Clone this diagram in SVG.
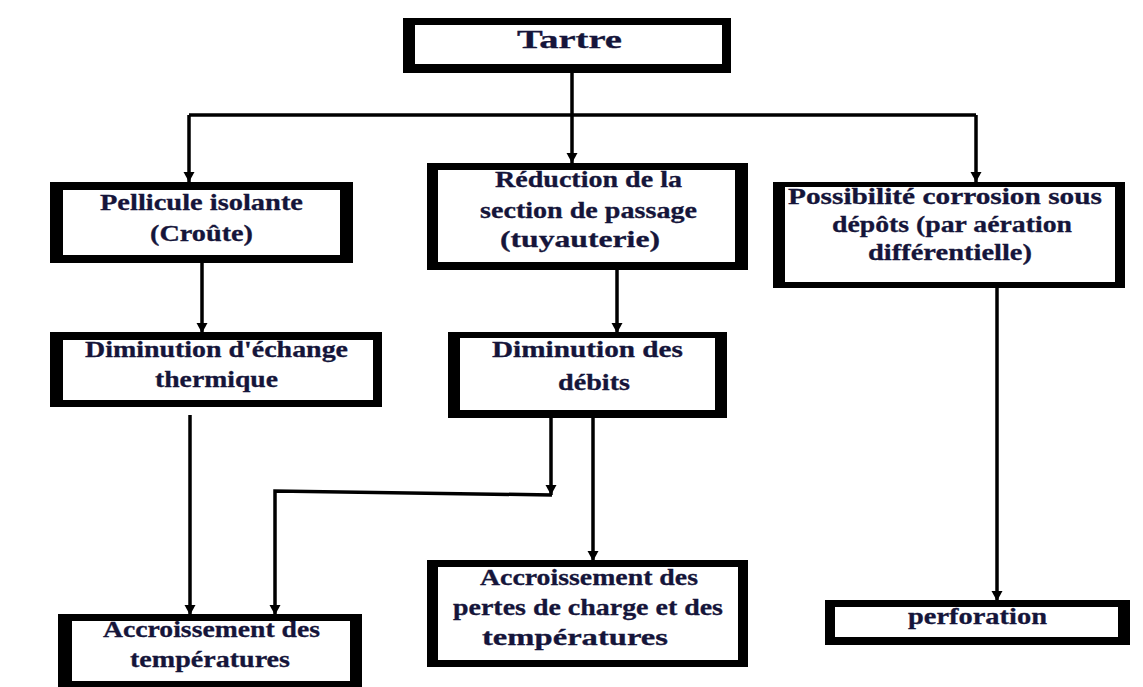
<svg xmlns="http://www.w3.org/2000/svg" width="1143" height="687" viewBox="0 0 1143 687">
<style>
.outer{fill:#000}
.inner{fill:#fff}
.t{font-family:"Liberation Serif","Times New Roman",serif;font-weight:bold;font-size:23px;fill:#15153a;stroke:#15153a;stroke-width:0.3}
.c{fill:none;stroke:#000;stroke-width:3.5}
</style>
<defs>
<marker id="ah" markerUnits="userSpaceOnUse" markerWidth="12" markerHeight="12" refX="10" refY="6" orient="auto">
<path d="M0,0.5 L10,6 L0,11.5 Z" fill="#000"/>
</marker>
</defs>
<rect width="1143" height="687" fill="#fff"/>
<g id="connectors">
<path class="c" d="M572,73 V163" marker-end="url(#ah)"/>
<path class="c" d="M189,115 H976"/>
<path class="c" d="M189,115 V182" marker-end="url(#ah)"/>
<path class="c" d="M976,115 V182" marker-end="url(#ah)"/>
<path class="c" d="M202,263 V333" marker-end="url(#ah)"/>
<path class="c" d="M617,270 V333" marker-end="url(#ah)"/>
<path class="c" d="M997,288 V601" marker-end="url(#ah)"/>
<path class="c" d="M190,415 V615" marker-end="url(#ah)"/>
<path class="c" d="M551,418 V495" marker-end="url(#ah)"/>
<path class="c" d="M552,495 L275,491 V615" marker-end="url(#ah)"/>
<path class="c" d="M593,418 V561" marker-end="url(#ah)"/>
</g>
<g id="tartre">
<rect class="outer" x="403" y="18" width="328" height="55"/>
<rect class="inner" x="415" y="25" width="307" height="39"/>
<text class="t" x="517" y="48" style="font-size:25px" textLength="105" lengthAdjust="spacingAndGlyphs">Tartre</text>
</g>
<g id="pellicule">
<rect class="outer" x="50" y="182" width="303" height="81"/>
<rect class="inner" x="63" y="190" width="277" height="65"/>
<text class="t" x="100" y="210" textLength="203" lengthAdjust="spacingAndGlyphs">Pellicule isolante</text>
<text class="t" x="150" y="241" textLength="103" lengthAdjust="spacingAndGlyphs">(Croûte)</text>
</g>
<g id="reduction">
<rect class="outer" x="427" y="163" width="321" height="107"/>
<rect class="inner" x="438" y="170" width="297" height="92"/>
<text class="t" x="495" y="187" textLength="187" lengthAdjust="spacingAndGlyphs">Réduction de la</text>
<text class="t" x="480" y="218" textLength="217" lengthAdjust="spacingAndGlyphs">section de passage</text>
<text class="t" x="500" y="247" textLength="160" lengthAdjust="spacingAndGlyphs">(tuyauterie)</text>
</g>
<g id="possibilite">
<rect class="outer" x="773" y="182" width="352" height="106"/>
<rect class="inner" x="785" y="187" width="330" height="95"/>
<text class="t" x="788" y="204" textLength="314" lengthAdjust="spacingAndGlyphs">Possibilité corrosion sous</text>
<text class="t" x="832" y="232" textLength="240" lengthAdjust="spacingAndGlyphs">dépôts (par aération</text>
<text class="t" x="868" y="260" textLength="164" lengthAdjust="spacingAndGlyphs">différentielle)</text>
</g>
<g id="diminution-echange">
<rect class="outer" x="50" y="332" width="332" height="75"/>
<rect class="inner" x="63" y="340" width="310" height="60"/>
<text class="t" x="85" y="357" textLength="263" lengthAdjust="spacingAndGlyphs">Diminution d'échange</text>
<text class="t" x="155" y="387" textLength="123" lengthAdjust="spacingAndGlyphs">thermique</text>
</g>
<g id="diminution-debits">
<rect class="outer" x="448" y="332" width="279" height="86"/>
<rect class="inner" x="460" y="338" width="255" height="72"/>
<text class="t" x="492" y="357" textLength="191" lengthAdjust="spacingAndGlyphs">Diminution des</text>
<text class="t" x="558" y="390" textLength="72" lengthAdjust="spacingAndGlyphs">débits</text>
</g>
<g id="accroissement-temp">
<rect class="outer" x="58" y="614" width="304" height="73"/>
<rect class="inner" x="72" y="621" width="278" height="60"/>
<text class="t" x="103" y="637" textLength="217" lengthAdjust="spacingAndGlyphs">Accroissement des</text>
<text class="t" x="130" y="667" textLength="160" lengthAdjust="spacingAndGlyphs">températures</text>
</g>
<g id="accroissement-pertes">
<rect class="outer" x="427" y="560" width="321" height="107"/>
<rect class="inner" x="438" y="567" width="300" height="93"/>
<text class="t" x="480" y="585" textLength="218" lengthAdjust="spacingAndGlyphs">Accroissement des</text>
<text class="t" x="453" y="615" textLength="270" lengthAdjust="spacingAndGlyphs">pertes de charge et des</text>
<text class="t" x="482" y="645" textLength="186" lengthAdjust="spacingAndGlyphs">températures</text>
</g>
<g id="perforation">
<rect class="outer" x="825" y="600" width="305" height="45"/>
<rect class="inner" x="835" y="607" width="283" height="30"/>
<text class="t" x="908" y="624" textLength="139" lengthAdjust="spacingAndGlyphs">perforation</text>
</g>
</svg>
